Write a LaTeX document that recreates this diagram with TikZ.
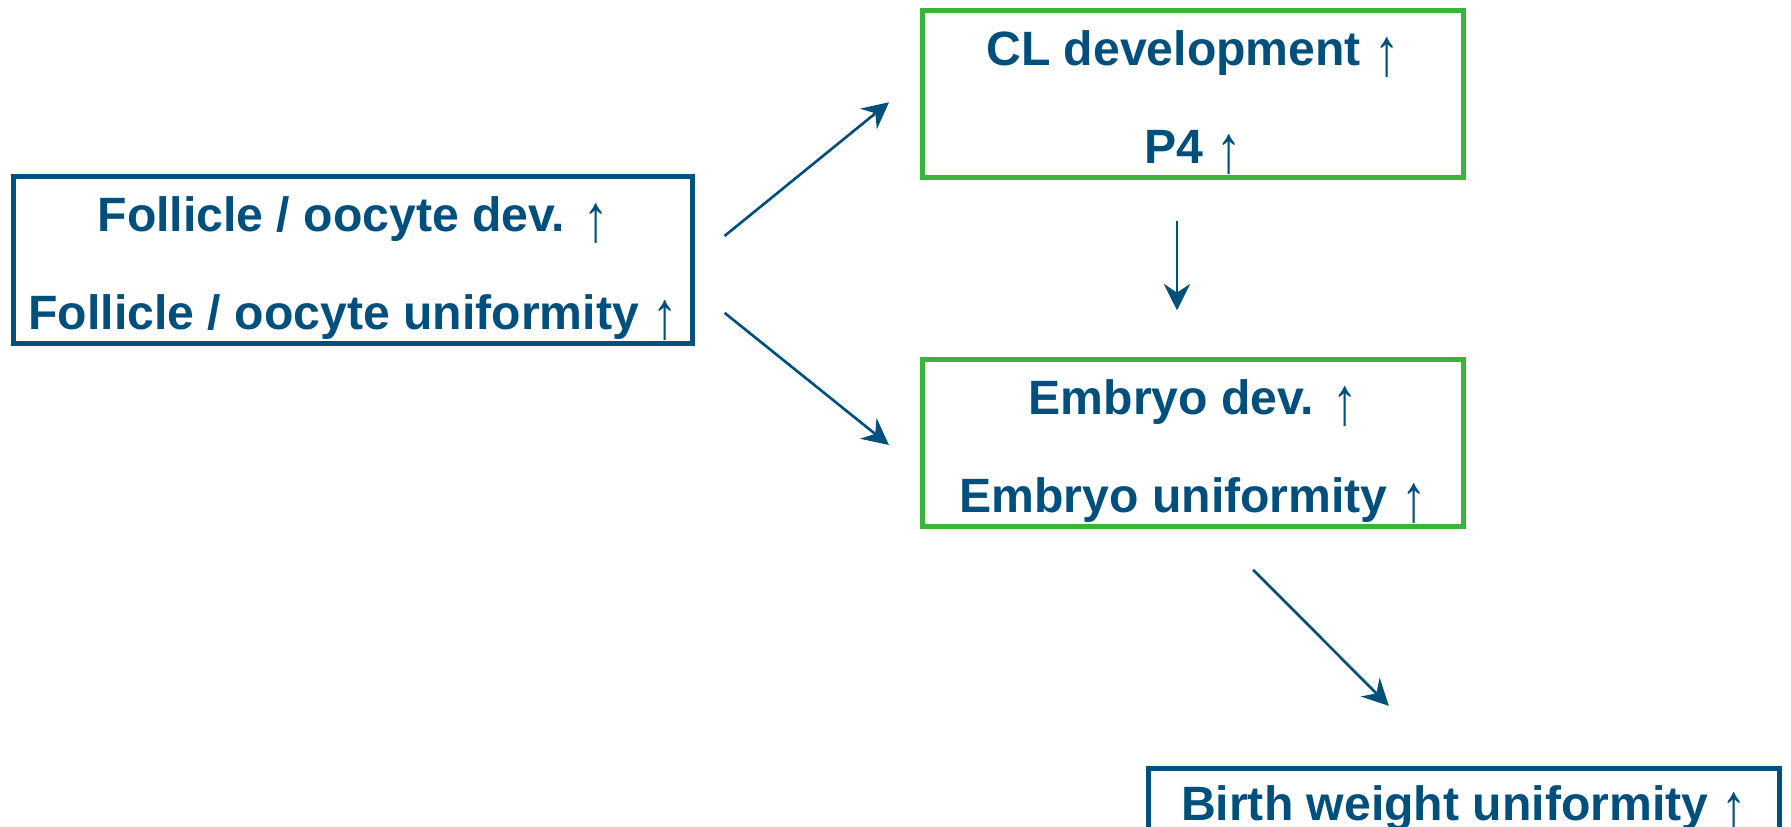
\documentclass[tikz,border=0pt]{standalone}
\usepackage{fontspec}
\setmainfont{Liberation Sans}
\usepackage{xcolor}
\usepackage{graphicx}
\usepackage{tikz}
\usetikzlibrary{arrows.meta}

\definecolor{navy}{HTML}{004F7C}
\definecolor{leaf}{HTML}{3BB43B}
\newcommand{\incr}{{\mdseries\smash{\raisebox{-0.2em}{\scalebox{1.05}[1.4]{↑}}}}\rule[-0.3em]{0pt}{1.45em}}

\begin{document}
\begin{tikzpicture}[
    x=0.01cm, y=-0.01cm,
    box/.style  = {draw, line width=1.3pt, align=center, text=navy, inner sep=0pt,
                   font=\fontsize{13.7}{27.6}\selectfont\bfseries},
    blu/.style  = {box, draw=navy},
    grn/.style  = {box, draw=leaf, minimum width=5.41cm, minimum height=1.65cm},
    flow/.style = {-{Stealth[length=7.5pt, width=7.5pt, inset=2.5pt]}, line width=0.75pt, navy},
  ]
    \useasboundingbox (0,0) rectangle (1791,826);

    % --- boxes ---
    \node[blu, minimum width=6.79cm, minimum height=1.65cm] (fol) at (353,260)
        {Follicle / oocyte dev. \incr\\ Follicle / oocyte uniformity \incr};
    \node[grn] (cl)  at (1193,94)  {CL development \incr\\ P4 \incr};
    \node[grn] (emb) at (1193,443) {Embryo dev. \incr\\ Embryo uniformity \incr};
    \node[blu, anchor=north, minimum width=6.31cm, inner ysep=0.19cm,
          text height=0.95em, text depth=0.3em] (bw) at (1464,766)
        {Birth weight uniformity \incr};

    % --- arrows ---
    \draw[flow, shorten <=0.38cm, shorten >=0.40cm] (fol.east) -- ([yshift=0.17cm]cl.west);
    \draw[flow, shorten <=0.38cm, shorten >=0.40cm] ([yshift=-0.29cm]fol.east) -- ([yshift=-0.27cm]emb.west);
    \draw[flow, shorten <=0.41cm, shorten >=0.47cm] ([xshift=-0.16cm]cl.south) -- ([xshift=-0.16cm]emb.north);
    \draw[flow, shorten <=0.58cm, shorten >=0.85cm] ([xshift=0.19cm]emb.south) -- ([xshift=-0.15cm]bw.north);
  \end{tikzpicture}
\end{document}
